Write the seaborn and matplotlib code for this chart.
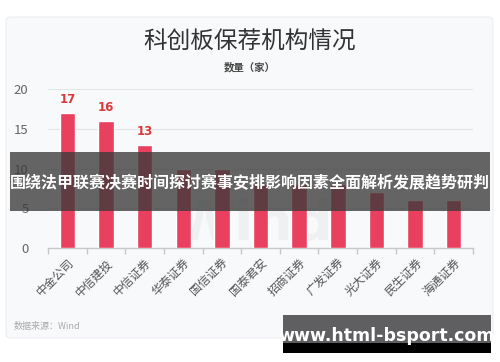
import matplotlib
matplotlib.use("Agg")
import matplotlib.pyplot as plt
import seaborn as sns
import pandas as pd
from matplotlib.patches import FancyBboxPatch, Rectangle

categories = ["中金公司", "中信建投", "中信证券", "华泰证券", "国信证券", "国泰君安",
              "招商证券", "广发证券", "光大证券", "民生证券", "海通证券"]
values = [17, 16, 13, 10, 10, 8, 8, 8, 7, 6, 6]
labeled_count = 3
y_ticks = [0, 5, 10, 15, 20]

title = "科创板保荐机构情况"
subtitle = "数量（家）"
source = "数据来源：Wind"
banner = "围绕法甲联赛决赛时间探讨赛事安排影响因素全面解析发展趋势研判"
site = "www.html-bsport.com"

sns.set_theme(style="white")
plt.rcParams['font.family'] = ['Noto Sans CJK SC', 'DejaVu Sans']

fig = plt.figure(figsize=(5, 3.62), dpi=100)
fig.patch.set_facecolor("white")

# card background
card = FancyBboxPatch((6/500, 1-338/362), 487/500, 321/362,
                      boxstyle="round,pad=0,rounding_size=0.01",
                      transform=fig.transFigure, facecolor="#f8f9fb",
                      edgecolor="#eceef1", linewidth=0.8, zorder=-5)
fig.patches.append(card)

ax = fig.add_axes([48/500, 1-248/362, 425/500, 159/362])
ax.set_facecolor("none")
ax.set_zorder(1)

df = pd.DataFrame({"机构": categories, "数量": values})
sns.barplot(data=df, x="机构", y="数量", color="#e8405e", width=0.4,
            saturation=1, ax=ax, zorder=3)

ax.set_ylim(0, 20)
ax.set_xlim(-0.5, len(categories) - 0.5)
ax.set_yticks(y_ticks)
ax.set_xlabel("")
ax.set_ylabel("")
ax.set_axisbelow(True)
ax.yaxis.grid(True, color="#e3e5e8", linewidth=0.8)
for s in ["top", "right", "left"]:
    ax.spines[s].set_visible(False)
ax.spines["bottom"].set_color("#c8c8c8")
ax.spines["bottom"].set_linewidth(1.0)

ax.tick_params(axis="y", length=0, pad=14, labelsize=9.5, labelcolor="#666666")
ax.set_xticks(range(len(categories)))
ax.set_xticklabels(categories, rotation=45, ha="right", rotation_mode="anchor",
                   fontsize=8.5, color="#555555")
ax.tick_params(axis="x", which="major", length=0, pad=6)
ax.set_xticks([i - 0.5 for i in range(len(categories) + 1)], minor=True)
ax.tick_params(axis="x", which="minor", length=4, color="#c8c8c8", width=1, bottom=True)

for i in range(labeled_count):
    ax.text(i, values[i] + 0.8, str(values[i]), ha="center", va="bottom",
            fontsize=8.5, fontweight="bold", color="#d93a3a", family="DejaVu Sans")

ax.text(4.8, 3.0, "Wind", ha="center", va="center", fontsize=40,
        color="#eef0f2", fontweight="bold", family="DejaVu Sans", zorder=1)

fig.text(0.5, 1-42/362, title, ha="center", va="center", fontsize=17,
         color="#333333")
fig.text(0.5, 1-67/362, subtitle, ha="center", va="center", fontsize=7.5,
         color="#444444", fontweight="bold")
fig.text(14/500, 1-327/362, source, ha="left", va="center", fontsize=6.5,
         color="#aaaaaa")

# banner overlay
fig.patches.append(Rectangle((10/500, 1-211/362), 480/500, 59/362,
                             transform=fig.transFigure, facecolor="#3a3a3a",
                             alpha=0.78, edgecolor="none", zorder=10))
fig.text(0.5, 1-183/362, banner, ha="center", va="center", fontsize=11.5,
         color="white", fontweight="bold", zorder=11)

# site watermark
fig.patches.append(Rectangle((283/500, 1-343/362), 208/500, 28/362,
                             transform=fig.transFigure, facecolor="#5f5f61",
                             edgecolor="none", zorder=10))
fig.patches.append(Rectangle((283/500, 1-353/362), 208/500, 10/362,
                             transform=fig.transFigure, facecolor="black",
                             edgecolor="none", zorder=10))
fig.text(387/500, 1-336/362, site, ha="center", va="center", fontsize=12.5,
         color="white", fontweight="bold", family="DejaVu Sans", zorder=11)

fig.savefig("out.png", dpi=100, facecolor="white")
